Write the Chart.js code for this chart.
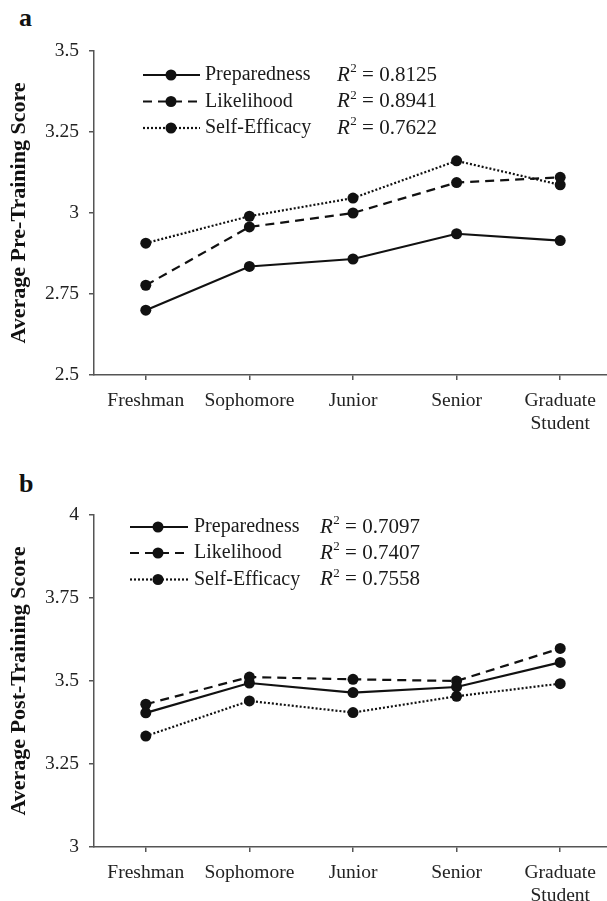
<!DOCTYPE html>
<html><head><meta charset="utf-8">
<script src="https://cdn.jsdelivr.net/npm/chart.js@4"></script>
<style>
html,body{margin:0;padding:0;background:#fff;overflow:hidden;width:607px;height:901px;}
.panel{position:absolute;left:0;width:620px;}
#pa{top:0;height:450px;}
#pb{top:450px;height:451px;}
.lab{position:absolute;font-family:"Liberation Serif",serif;font-weight:bold;font-size:26px;line-height:1;color:#111;}
</style></head><body>
<div class="lab" style="left:19px;top:5px">a</div>
<div class="lab" style="left:19px;top:471px">b</div>
<div class="panel" id="pa"><canvas id="ca"></canvas></div>
<div class="panel" id="pb"><canvas id="cb"></canvas></div>
<script>
// ---- data ----
const categories = ['Freshman', 'Sophomore', 'Junior', 'Senior', ['Graduate', 'Student']];
const seriesNames = ['Preparedness', 'Likelihood', 'Self-Efficacy'];

const preparednessPre = [2.700, 2.835, 2.858, 2.936, 2.915];
const likelihoodPre   = [2.777, 2.957, 3.000, 3.094, 3.110];
const selfEfficacyPre = [2.907, 2.990, 3.046, 3.161, 3.087];

const preparednessPost = [3.404, 3.494, 3.465, 3.482, 3.556];
const likelihoodPost   = [3.430, 3.512, 3.505, 3.500, 3.598];
const selfEfficacyPost = [3.334, 3.440, 3.405, 3.454, 3.492];

const yTicksPre  = [2.5, 2.75, 3, 3.25, 3.5];
const yTicksPost = [3, 3.25, 3.5, 3.75, 4];

const r2Pre  = ['0.8125', '0.8941', '0.7622'];
const r2Post = ['0.7097', '0.7407', '0.7558'];

// ---- styling ----
const INK = '#111';
const AXIS = '#555';
const SERIF = '"Liberation Serif", "Times New Roman", serif';
const dashes = [[], [9, 6], [2, 2]];

function legendPlugin(cfg) {
  return {
    id: 'r2legend',
    afterDraw(chart) {
      const ctx = chart.ctx;
      ctx.save();
      seriesNames.forEach((name, i) => {
        const y = cfg.ys[i];
        ctx.strokeStyle = INK;
        ctx.lineWidth = 2.2;
        ctx.setLineDash(dashes[i]);
        ctx.beginPath();
        ctx.moveTo(cfg.x0, y);
        ctx.lineTo(cfg.x1, y);
        ctx.stroke();
        ctx.setLineDash([]);
        ctx.fillStyle = INK;
        ctx.beginPath();
        ctx.arc(cfg.mx, y, 5.5, 0, Math.PI * 2);
        ctx.fill();
        ctx.fillStyle = '#1a1a1a';
        ctx.textBaseline = 'middle';
        ctx.textAlign = 'left';
        ctx.font = '20px ' + SERIF;
        ctx.fillText(name, cfg.tx, y);
        ctx.font = 'italic 21px ' + SERIF;
        ctx.fillText('R', cfg.rx, y);
        const w = ctx.measureText('R').width;
        ctx.font = '13px ' + SERIF;
        ctx.fillText('2', cfg.rx + w + 0.5, y - 6);
        ctx.font = '21px ' + SERIF;
        ctx.fillText(' = ' + cfg.r2[i], cfg.rx + w + 7, y);
      });
      ctx.restore();
    }
  };
}

function makeChart(id, seriesData, ticks, title, padTop, xHeight, legendCfg) {
  return new Chart(document.getElementById(id), {
    type: 'line',
    data: {
      labels: categories,
      datasets: seriesNames.map((n, i) => ({
        label: n,
        data: seriesData[i],
        borderColor: INK,
        backgroundColor: INK,
        borderWidth: 2.2,
        borderDash: dashes[i],
        pointRadius: 5.5,
        pointHoverRadius: 5.5,
        pointBackgroundColor: INK,
        pointBorderWidth: 0,
        tension: 0,
        fill: false,
        clip: false
      }))
    },
    options: {
      responsive: true,
      maintainAspectRatio: false,
      animation: false,
      devicePixelRatio: 1,
      events: [],
      layout: { padding: { top: padTop, left: 0, right: 8, bottom: 0 } },
      plugins: { legend: { display: false }, tooltip: { enabled: false } },
      scales: {
        x: {
          type: 'category',
          offset: true,
          grid: { display: true, drawOnChartArea: false, drawTicks: true, tickLength: 5, color: AXIS, lineWidth: 1.5, offset: false },
          border: { display: true, color: AXIS, width: 1.5 },
          ticks: { color: '#222', font: { family: SERIF, size: 19.5 }, padding: 9, maxRotation: 0, autoSkip: false },
          afterFit(s) { s.height = xHeight; }
        },
        y: {
          min: ticks[0],
          max: ticks[ticks.length - 1],
          grid: { display: true, drawOnChartArea: false, drawTicks: true, tickLength: 5, color: AXIS, lineWidth: 1.5 },
          border: { display: true, color: AXIS, width: 1.5 },
          ticks: { color: '#222', font: { family: SERIF, size: 19.5 }, padding: 10, callback: v => String(v) },
          afterBuildTicks(s) { s.ticks = ticks.map(v => ({ value: v })); },
          title: { display: true, text: title, color: INK, font: { family: SERIF, size: 22, weight: 'bold' }, padding: { top: 6, bottom: 0 } },
          afterFit(s) { s.width = 94; }
        }
      }
    },
    plugins: [legendPlugin(legendCfg)]
  });
}

makeChart('ca', [preparednessPre, likelihoodPre, selfEfficacyPre], yTicksPre,
  'Average Pre-Training Score', 51, 75,
  { x0: 143, x1: 200, mx: 171, tx: 205, rx: 337, ys: [75, 101.5, 128], r2: r2Pre });

makeChart('cb', [preparednessPost, likelihoodPost, selfEfficacyPost], yTicksPost,
  'Average Post-Training Score', 65, 54,
  { x0: 130, x1: 188, mx: 158, tx: 194, rx: 320, ys: [77, 103, 129.5], r2: r2Post });
</script>
</body></html>
